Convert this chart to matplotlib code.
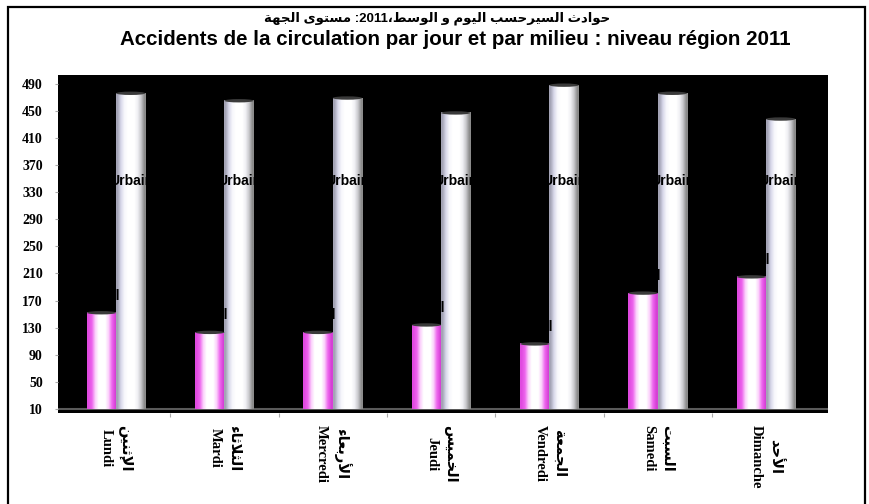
import itertools
import numpy as np
import matplotlib.pyplot as plt
from matplotlib.patches import Ellipse, Rectangle

# données
days_fr = ['Lundi', 'Mardi', 'Mercredi', 'Jeudi', 'Vendredi', 'Samedi', 'Dimanche']
days_ar = ['الإثنين', 'الثلاثاء', 'الأربعاء', 'الخميس', 'الجمعة', 'السبت', 'الأحد']
rural = [152, 123, 123, 134, 106, 181, 205]
urbain = [476, 465, 469, 447, 488, 476, 438]
y_ticks = list(range(10, 491, 40))
title_ar = 'حوادث السيرحسب اليوم و الوسط،2011: مستوى الجهة'
title_fr = 'Accidents de la circulation par jour et par milieu : niveau région 2011'

# formes de présentation arabes (matplotlib ne fait pas le shaping)
AR_LETTERS = {
    'ء': (0xFE80, 'none'), 'أ': (0xFE83, 'right'), 'إ': (0xFE87, 'right'),
    'ا': (0xFE8D, 'right'), 'ب': (0xFE8F, 'dual'), 'ة': (0xFE93, 'right'),
    'ت': (0xFE95, 'dual'), 'ث': (0xFE99, 'dual'), 'ج': (0xFE9D, 'dual'),
    'ح': (0xFEA1, 'dual'), 'خ': (0xFEA5, 'dual'), 'د': (0xFEA9, 'right'),
    'ر': (0xFEAD, 'right'), 'س': (0xFEB1, 'dual'), 'ط': (0xFEC1, 'dual'),
    'ع': (0xFEC9, 'dual'), 'ل': (0xFEDD, 'dual'), 'م': (0xFEE1, 'dual'),
    'ن': (0xFEE5, 'dual'), 'ه': (0xFEE9, 'dual'), 'و': (0xFEED, 'right'),
    'ى': (0xFEEF, 'right'), 'ي': (0xFEF1, 'dual'),
}
LAM_ALEF = {'ا': 0xFEFB, 'أ': 0xFEF7, 'إ': 0xFEF9}


def shape_run(run):
    # renvoie les glyphes en ordre logique
    tokens = []
    i = 0
    while i < len(run):
        c = run[i]
        if c == 'ل' and i + 1 < len(run) and run[i + 1] in LAM_ALEF:
            tokens.append((LAM_ALEF[run[i + 1]], 'right'))
            i += 2
        else:
            tokens.append(AR_LETTERS[c])
            i += 1
    glyphs = []
    for k, (code, kind) in enumerate(tokens):
        prev = k > 0 and tokens[k - 1][1] == 'dual' and kind != 'none'
        nxt = kind == 'dual' and k + 1 < len(tokens) and tokens[k + 1][1] != 'none'
        if kind == 'dual':
            code += int(prev) + 2 * int(nxt)
        elif kind == 'right':
            code += int(prev)
        glyphs.append(chr(code))
    return ''.join(glyphs)


def kind_of(c):
    if c in AR_LETTERS:
        return 'ar'
    if c.isdigit():
        return 'num'
    return 'other'


def to_visual(s):
    # paragraphe de droite à gauche, les nombres restent de gauche à droite
    runs = []
    for k, grp in itertools.groupby(s, key=kind_of):
        grp = ''.join(grp)
        if k == 'ar':
            grp = shape_run(grp)[::-1]
        elif k == 'other':
            grp = grp[::-1]
        runs.append(grp)
    return ''.join(reversed(runs))


RURAL_COLS = ['#e04ae0', '#ee66ee', '#fbd0fb', '#ffffff', '#ffffff', '#ffffff',
              '#fbd0fb', '#ee66ee', '#d640d6']
URBAIN_COLS = ['#a4a4b6', '#d8d8ea', '#f6f6fb', '#ffffff', '#ffffff', '#ffffff',
               '#f0f0f4', '#cacace', '#8c8c8c']


def cylinder(ax, x0, w, top, cols, base=10):
    grad = np.array([plt.matplotlib.colors.to_rgb(c) for c in cols])[None, :, :]
    ax.imshow(grad, extent=(x0, x0 + w, base, top), aspect='auto',
              interpolation='bilinear', zorder=2)
    ax.add_patch(Ellipse((x0 + w / 2, top), w, 5, facecolor='#3a3a3a',
                         edgecolor='none', zorder=3))


fig = plt.figure(figsize=(8.69, 5.04), dpi=100)
ax = fig.add_axes([58 / 869, 91 / 504, 770 / 869, 338 / 504])
ax.set_facecolor('black')
for s in ax.spines.values():
    s.set_visible(False)

w = 0.27
x = np.arange(len(days_fr))
ax.axhline(10, color='#5a5a5a', lw=1.5, zorder=1)
for i in x:
    cylinder(ax, i - w, w, rural[i], RURAL_COLS)
    cylinder(ax, i, w, urbain[i], URBAIN_COLS)
    ax.text(i + w / 2, 346, 'Urbain', ha='center', va='center', fontsize=10,
            family='Liberation Sans', weight='bold', color='black', zorder=5)
    ax.text(i - w / 2, rural[i] + 25, 'Rural', ha='center', va='center', fontsize=10,
            family='Liberation Sans', weight='bold', color='black', zorder=5)

ax.set_xlim(-0.536, 6.572)
ax.set_ylim(4, 503)

ax.set_yticks(y_ticks)
ax.tick_params(axis='y', length=2, color='#aaaaaa', pad=9, labelsize=10)
for lab in ax.get_yticklabels():
    lab.set_fontfamily('Liberation Serif')
    lab.set_fontweight('bold')

ax.set_xticks(x[:-1] + 0.5)
ax.set_xticklabels([])
ax.tick_params(axis='x', length=3, color='#aaaaaa')
for i in x:
    ax.annotate(to_visual(days_ar[i]) + '\n' + days_fr[i], xy=(i, 0),
                xycoords=('data', 'axes fraction'), xytext=(0, -12),
                textcoords='offset pixels', rotation=270, ha='center', va='top',
                multialignment='center', fontsize=10.5, weight='bold',
                family=['Liberation Serif', 'DejaVu Sans'], linespacing=1.5)

fig.text(437 / 869, 1 - 18 / 504, to_visual(title_ar), ha='center', va='center',
         fontsize=9.5, weight='bold', family=['Liberation Sans', 'DejaVu Sans'])
fig.text(455 / 869, 1 - 40 / 504, title_fr, ha='center', va='center',
         fontsize=14.8, weight='bold', family='Liberation Sans')

fig.patches.append(Rectangle((8 / 869, -0.02), 857 / 869, 1.02 - 7 / 504,
                             transform=fig.transFigure, fill=False,
                             edgecolor='black', lw=1.6))

fig.savefig('out.png', dpi=100)
